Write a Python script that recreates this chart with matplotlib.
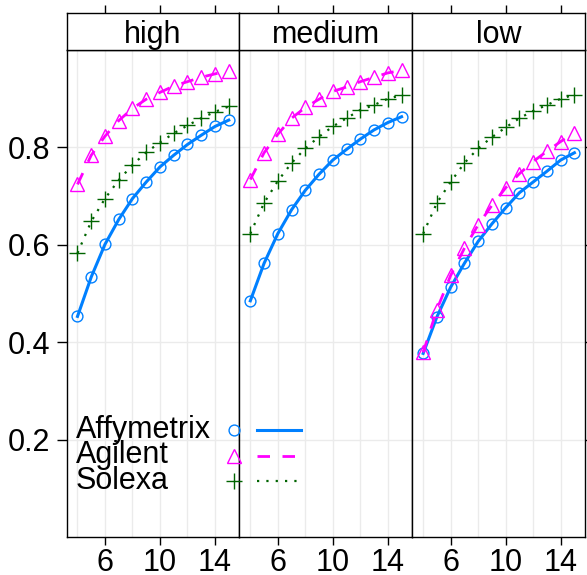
import numpy as np
import matplotlib.pyplot as plt
from matplotlib.lines import Line2D

plt.rcParams['font.family'] = ['Liberation Sans', 'DejaVu Sans']

# --- data ---
x = np.arange(4, 16)
panels = ["high", "medium", "low"]
platforms = ["Affymetrix", "Agilent", "Solexa"]

affy_high = [0.453, 0.534, 0.601, 0.652, 0.695, 0.729, 0.760, 0.784, 0.806, 0.825, 0.843, 0.856]
agil_high = [0.724, 0.784, 0.823, 0.855, 0.880, 0.899, 0.913, 0.926, 0.935, 0.944, 0.951, 0.957]
solx_high = [0.583, 0.648, 0.695, 0.733, 0.764, 0.790, 0.810, 0.829, 0.845, 0.860, 0.873, 0.884]

affy_med = [0.485, 0.562, 0.623, 0.672, 0.712, 0.745, 0.774, 0.796, 0.817, 0.836, 0.851, 0.863]
agil_med = [0.734, 0.789, 0.827, 0.860, 0.882, 0.899, 0.915, 0.924, 0.935, 0.944, 0.953, 0.958]
solx_med = [0.623, 0.686, 0.731, 0.768, 0.798, 0.822, 0.843, 0.860, 0.877, 0.887, 0.900, 0.907]

affy_low = [0.377, 0.452, 0.513, 0.562, 0.607, 0.643, 0.676, 0.707, 0.729, 0.751, 0.774, 0.789]
agil_low = [0.379, 0.467, 0.537, 0.593, 0.641, 0.681, 0.717, 0.746, 0.771, 0.792, 0.812, 0.830]
solx_low = [0.623, 0.686, 0.729, 0.768, 0.798, 0.821, 0.841, 0.860, 0.875, 0.887, 0.900, 0.908]

data = {
    "high": [affy_high, agil_high, solx_high],
    "medium": [affy_med, agil_med, solx_med],
    "low": [affy_low, agil_low, solx_low],
}

# --- styles (lattice superpose defaults) ---
cols = ["#0080ff", "#ff00ff", "#006400"]
marks = ["o", "^", "+"]
msizes = [7.8, 10.5, 11]
dashes = [(None, None), (4.5, 4.5), (1, 3.2)]
lws = [2.2, 2.0, 1.6]

W, H = 587, 575
fig = plt.figure(figsize=(W / 100, H / 100), dpi=100)

left, right = 66.5, 585
top_strip, top_panel, bottom = 13.3, 50, 537
pw = (right - left) / 3
fs = 22

xlim = (3.2, 15.77)
ylim = (0.0, 1.0)

for i, name in enumerate(panels):
    x0 = left + i * pw
    ax = fig.add_axes([x0 / W, 1 - bottom / H, pw / W, (bottom - top_panel) / H])
    sx = fig.add_axes([x0 / W, 1 - top_panel / H, pw / W, (top_panel - top_strip) / H])

    ax.set_xlim(*xlim)
    ax.set_ylim(*ylim)
    for g in range(4, 16, 2):
        ax.axvline(g, color="#ebebeb", lw=1, zorder=0)
    for g in [0.2, 0.4, 0.6, 0.8]:
        ax.axhline(g, color="#ebebeb", lw=1, zorder=0)

    for j in range(3):
        ln, = ax.plot(x, data[name][j], color=cols[j], lw=lws[j], zorder=2 + j)
        if dashes[j][0] is not None:
            ln.set_dashes(dashes[j])
        ax.plot(x, data[name][j], linestyle="none", marker=marks[j], ms=msizes[j],
                mfc="none", mec=cols[j], mew=1.0, zorder=2 + j)

    ax.set_xticks([6, 10, 14])
    ax.tick_params(axis="x", direction="out", length=6, width=1, labelsize=fs, pad=2)
    ax.tick_params(axis="y", direction="out", length=7, width=1, labelsize=fs, pad=5)
    ax.set_yticks([0.2, 0.4, 0.6, 0.8])
    if i == 0:
        ax.set_yticklabels(["0.2", "0.4", "0.6", "0.8"])
    elif i == 2:
        ax.tick_params(axis="y", left=False, labelleft=False, right=True, labelright=False)
    else:
        ax.tick_params(axis="y", left=False, labelleft=False)
    for s in ax.spines.values():
        s.set_linewidth(1)

    # strip
    sx.set_xlim(*xlim)
    sx.set_ylim(0, 1)
    sx.set_xticks([6, 10, 14])
    sx.tick_params(axis="x", bottom=False, labelbottom=False, top=True, direction="out",
                   length=6, width=1)
    sx.set_yticks([])
    for s in sx.spines.values():
        s.set_linewidth(1)
    sx.text(0.5, 0.42, name, transform=sx.transAxes, ha="center", va="center", fontsize=fs)

# --- key, drawn over the whole figure in pixel units ---
ov = fig.add_axes([0, 0, 1, 1], facecolor="none")
ov.set_xlim(0, W)
ov.set_ylim(H, 0)
ov.axis("off")
key_y = [430, 455.5, 481]
for j, lab in enumerate(platforms):
    ov.text(76, key_y[j], lab, fontsize=fs, ha="left", va="center")
    ov.plot([234], [key_y[j]], marker=marks[j], ms=msizes[j], mfc="none",
            mec=cols[j], mew=1.0, linestyle="none")
    ln, = ov.plot([257, 301], [key_y[j], key_y[j]], color=cols[j], lw=lws[j])
    if dashes[j][0] is not None:
        ln.set_dashes(dashes[j])

fig.savefig("out.png", dpi=100)
